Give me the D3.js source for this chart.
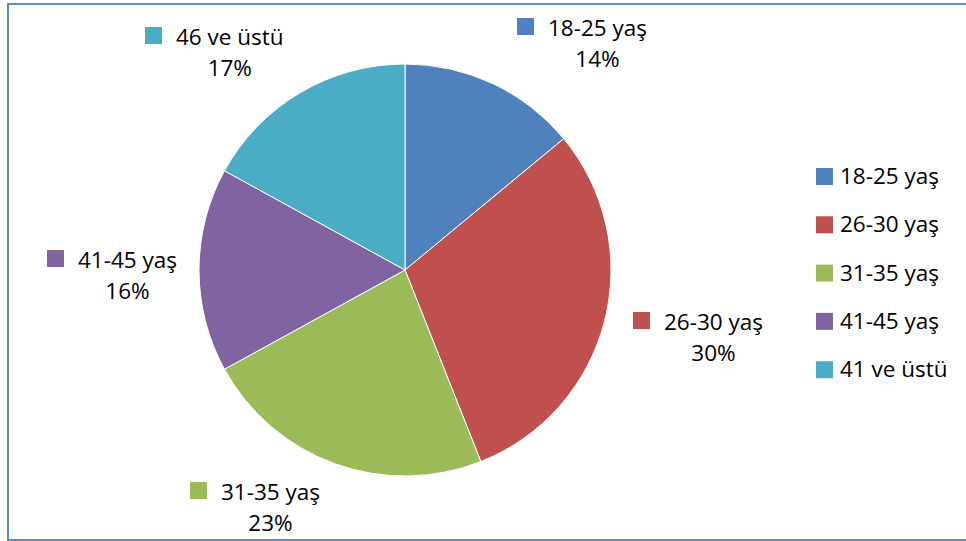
<!DOCTYPE html>
<html>
<head>
<meta charset="utf-8">
<style type="text/css">
body { margin: 0; background: #fff; }
text { font-family: "Open Sans", "Noto Sans", sans-serif; font-size: 22.5px; fill: #000; }
</style>
</head>
<body>
<script src="https://d3js.org/d3.v7.min.js"></script>
<script>
// chart values
var categories = ["18-25 yaş", "26-30 yaş", "31-35 yaş", "41-45 yaş", "46 ve üstü"];
var legendLabels = ["18-25 yaş", "26-30 yaş", "31-35 yaş", "41-45 yaş", "41 ve üstü"];
var percents = [14, 30, 23, 16, 17];
var colors = ["#4f81bd", "#c0504d", "#9bbb59", "#8064a2", "#4bacc6"];

var width = 966, height = 541;
var cx = 405, cy = 270, radius = 206;

var svg = d3.select("body").append("svg")
    .attr("width", width)
    .attr("height", height);

// chart frame
svg.append("rect")
    .attr("x", 8).attr("y", 4)
    .attr("width", 970).attr("height", 536)
    .attr("fill", "none")
    .attr("stroke", "#5b8ac9")
    .attr("stroke-width", 2);

var color = d3.scaleOrdinal().domain(categories).range(colors);

var pie = d3.pie().sort(null).value(function(d) { return d.value; });
var arc = d3.arc().innerRadius(0).outerRadius(radius);

var data = categories.map(function(c, i) { return {name: c, value: percents[i]}; });

var g = svg.append("g").attr("transform", "translate(" + cx + "," + cy + ")");

g.selectAll("path")
    .data(pie(data))
    .enter().append("path")
    .attr("d", arc)
    .attr("fill", function(d) { return color(d.data.name); })
    .attr("stroke", "#fff")
    .attr("stroke-width", 1);

// data label anchors (marker left x, name baseline y)
var labelPos = [[517, 36], [633, 330], [190, 500], [47, 268], [145, 45]];

var lab = svg.selectAll("g.dlabel")
    .data(data)
    .enter().append("g")
    .attr("class", "dlabel")
    .attr("transform", function(d, i) { return "translate(" + labelPos[i][0] + "," + labelPos[i][1] + ")"; });

lab.append("rect")
    .attr("x", 0).attr("y", -18)
    .attr("width", 17).attr("height", 17)
    .attr("fill", function(d) { return color(d.name); });

lab.append("text")
    .attr("x", 31).attr("y", 0)
    .text(function(d) { return d.name; });

lab.append("text")
    .attr("text-anchor", "middle")
    .attr("x", function() { return 31 + this.parentNode.querySelector("text").getComputedTextLength() / 2; })
    .attr("y", 31)
    .text(function(d) { return d.value + "%"; });

// legend
var leg = svg.selectAll("g.legend")
    .data(legendLabels)
    .enter().append("g")
    .attr("class", "legend")
    .attr("transform", function(d, i) { return "translate(816," + (176 + i * 48.3) + ")"; });

leg.append("rect")
    .attr("x", 0).attr("y", -8)
    .attr("width", 17).attr("height", 17)
    .attr("fill", function(d, i) { return colors[i]; });

leg.append("text")
    .attr("x", 24).attr("y", 8)
    .text(function(d) { return d; });
</script>
</body>
</html>
